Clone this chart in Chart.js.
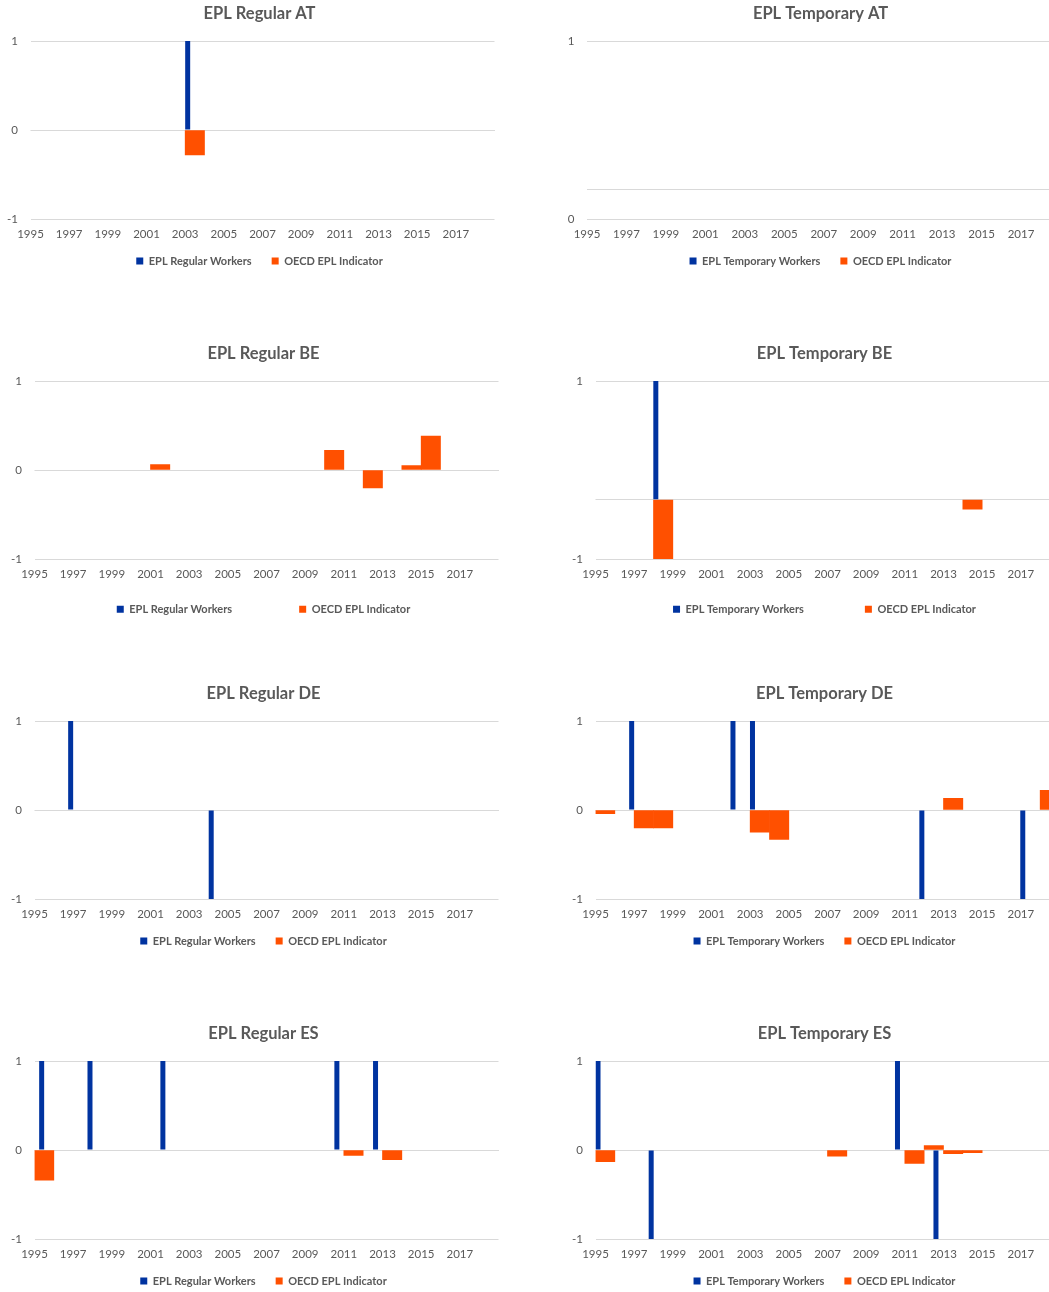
<!DOCTYPE html>
<html>
<head>
<meta charset="utf-8">
<title>EPL changes by country</title>
<script src="https://cdn.jsdelivr.net/npm/chart.js@4.4.1/dist/chart.umd.min.js"></script>
<style>
  html, body { margin: 0; padding: 0; background: #fff; overflow: hidden; }
  body { width: 1049px; height: 1292px; position: relative; }
  .panel { position: absolute; }
  .panel canvas { display: block; }
</style>
</head>
<body>
<script>
// --- Data ---
const years = [1995, 1996, 1997, 1998, 1999, 2000, 2001, 2002, 2003, 2004, 2005, 2006,
               2007, 2008, 2009, 2010, 2011, 2012, 2013, 2014, 2015, 2016, 2017, 2018];
const xTickLabels = ['1995', '1997', '1999', '2001', '2003', '2005', '2007', '2009', '2011', '2013', '2015', '2017'];

// y tick labels
const yTicksFull = [-1, 0, 1];
const yTicksTempAt = [0, 1];
const yTicksTempBe = [-1, 1];

// reform dates (decimal years) and direction of the reform for the workers series
const regAtDates = [2003.13];
const regAtWorkers = [1];
const tempAtDates = [];
const tempAtWorkers = [];
const regBeDates = [];
const regBeWorkers = [];
const tempBeDates = [1998.12];
const tempBeWorkers = [1];
const regDeDates = [1996.87, 2004.14];
const regDeWorkers = [1, -1];
const tempDeDates = [1996.87, 2002.11, 2003.12, 2011.88, 2017.1];
const tempDeWorkers = [1, 1, 1, -1, -1];
const regEsDates = [1995.37, 1997.87, 2001.64, 2010.64, 2012.64];
const regEsWorkers = [1, 1, 1, 1, 1];
const tempEsDates = [1995.13, 1997.88, 2010.62, 2012.61];
const tempEsWorkers = [1, -1, 1, -1];

// yearly change of the OECD EPL indicator, one value per year 1995..2018
const regAtOecd  = [0, 0, 0, 0, 0, 0, 0, 0, -0.28, 0, 0, 0, 0, 0, 0, 0, 0, 0, 0, 0, 0, 0, 0, 0];
const tempAtOecd = [0, 0, 0, 0, 0, 0, 0, 0, 0, 0, 0, 0, 0, 0, 0, 0, 0, 0, 0, 0, 0, 0, 0, 0];
const regBeOecd  = [0, 0, 0, 0, 0, 0, 0.06, 0, 0, 0, 0, 0, 0, 0, 0, 0.22, 0, -0.2, 0, 0.05, 0.38, 0, 0, 0];
const tempBeOecd = [0, 0, 0, -0.5, 0, 0, 0, 0, 0, 0, 0, 0, 0, 0, 0, 0, 0, 0, 0, -0.08, 0, 0, 0, 0];
const regDeOecd  = [0, 0, 0, 0, 0, 0, 0, 0, 0, 0, 0, 0, 0, 0, 0, 0, 0, 0, 0, 0, 0, 0, 0, 0];
const tempDeOecd = [-0.04, 0, -0.2, -0.2, 0, 0, 0, 0, -0.25, -0.33, 0, 0, 0, 0, 0, 0, 0, 0, 0.13, 0, 0, 0, 0, 0.22];
const regEsOecd  = [-0.34, 0, 0, 0, 0, 0, 0, 0, 0, 0, 0, 0, 0, 0, 0, 0, -0.06, 0, -0.11, 0, 0, 0, 0, 0];
const tempEsOecd = [-0.13, 0, 0, 0, 0, 0, 0, 0, 0, 0, 0, 0, -0.07, 0, 0, 0, -0.15, 0.05, -0.04, -0.03, 0, 0, 0, 0];

// --- Styling ---
Chart.defaults.font.family = 'Lato, "Open Sans", sans-serif';
Chart.defaults.color = '#595959';

const BLUE = '#0033a0';
const ORANGE = '#ff5000';
const GRID = '#d9d9d9';

const PLOT_BOTTOM = 219;   // bottom of plot area inside each panel
const X_AXIS_H = 24;       // must hold the tick labels (they are clipped to the axis box)
const LEGEND_FONT = 11;
const TICK_FONT = 11.5;
const RIGHT_PAD = 28.5;

const panels = [
  { title: 'EPL Regular AT', series: 'EPL Regular Workers', dates: regAtDates, workers: regAtWorkers, oecd: regAtOecd,
    yTicks: yTicksFull, barMin: -1, barMax: 1, left: -4.5, top: 0, width: 527, axisW: 34.5, gap: 20, drop: 42 },
  { title: 'EPL Temporary AT', series: 'EPL Temporary Workers', dates: tempAtDates, workers: tempAtWorkers, oecd: tempAtOecd,
    yTicks: yTicksTempAt, barMin: -0.2, barMax: 1, left: 551.5, top: 0, width: 537, axisW: 35, gap: 20, drop: 42 },
  { title: 'EPL Regular BE', series: 'EPL Regular Workers', dates: regBeDates, workers: regBeWorkers, oecd: regBeOecd,
    yTicks: yTicksFull, barMin: -1, barMax: 1, left: 0, top: 340, width: 527, axisW: 34.5, gap: 67, drop: 50.3 },
  { title: 'EPL Temporary BE', series: 'EPL Temporary Workers', dates: tempBeDates, workers: tempBeWorkers, oecd: tempBeOecd,
    yTicks: yTicksTempBe, barMin: -0.5, barMax: 1, left: 560.5, top: 340, width: 527, axisW: 34.5, gap: 61, drop: 50.3 },
  { title: 'EPL Regular DE', series: 'EPL Regular Workers', dates: regDeDates, workers: regDeWorkers, oecd: regDeOecd,
    yTicks: yTicksFull, barMin: -1, barMax: 1, left: 0, top: 680, width: 527, axisW: 34.5, gap: 20, drop: 42 },
  { title: 'EPL Temporary DE', series: 'EPL Temporary Workers', dates: tempDeDates, workers: tempDeWorkers, oecd: tempDeOecd,
    yTicks: yTicksFull, barMin: -1, barMax: 1, left: 560.5, top: 680, width: 527, axisW: 34.5, gap: 20, drop: 42 },
  { title: 'EPL Regular ES', series: 'EPL Regular Workers', dates: regEsDates, workers: regEsWorkers, oecd: regEsOecd,
    yTicks: yTicksFull, barMin: -1, barMax: 1, left: 0, top: 1020, width: 527, axisW: 34.5, gap: 20, drop: 42 },
  { title: 'EPL Temporary ES', series: 'EPL Temporary Workers', dates: tempEsDates, workers: tempEsWorkers, oecd: tempEsOecd,
    yTicks: yTicksFull, barMin: -1, barMax: 1, left: 560.5, top: 1020, width: 527, axisW: 34.5, gap: 20, drop: 42 }
];

function makeChart(p) {
  // legend item centre sits at axis bottom + titleHeight + padding + itemHeight / 2;
  // an (empty, negative) legend title brings it to the wanted distance below the plot
  const lift = p.drop - X_AXIS_H - p.gap - LEGEND_FONT / 2;
  const legendH = lift + LEGEND_FONT + p.gap + 10;
  const need = PLOT_BOTTOM + X_AXIS_H + legendH;
  const height = Math.ceil(need);

  const holder = document.createElement('div');
  holder.className = 'panel';
  holder.style.left = p.left + 'px';
  holder.style.top = p.top + 'px';
  const canvas = document.createElement('canvas');
  canvas.width = p.width;
  canvas.height = height;
  holder.appendChild(canvas);
  document.body.appendChild(holder);

  new Chart(canvas, {
    type: 'bar',
    data: {
      datasets: [
        {
          label: p.series,
          data: p.dates.map((d, i) => ({ x: d, y: p.workers[i] })),
          backgroundColor: BLUE,
          xAxisID: 'x2',
          yAxisID: 'y2',
          grouped: false,
          maxBarThickness: 5
        },
        {
          label: 'OECD EPL Indicator',
          // each yearly bar spans the whole year
          data: years.map((yr, i) => ({ x: yr + 0.5, y: p.oecd[i] === 0 ? null : p.oecd[i] })),
          backgroundColor: ORANGE,
          xAxisID: 'x',
          yAxisID: 'y2',
          grouped: false,
          barPercentage: 1,
          categoryPercentage: 1
        }
      ]
    },
    options: {
      responsive: false,
      animation: false,
      layout: { padding: { left: 0, right: 0, top: 0, bottom: height - need } },
      plugins: {
        title: {
          display: true,
          text: p.title,
          color: '#595959',
          font: { size: 16.5, weight: 'bold' },
          padding: { top: 4, bottom: 17.2 }
        },
        legend: {
          position: 'bottom',
          labels: {
            boxWidth: 7,
            boxHeight: 7,
            padding: p.gap,
            color: '#595959',
            font: { size: LEGEND_FONT, weight: 'bold' }
          },
          title: { display: true, text: '', font: { size: 10 }, padding: { top: lift - 12, bottom: 0 } }
        },
        tooltip: { enabled: false }
      },
      scales: {
        x: {
          type: 'linear',
          min: 1995,
          max: 2019,
          offset: false,
          grid: { display: false, drawTicks: false },
          border: { display: false },
          ticks: {
            autoSkip: false,
            maxRotation: 0,
            padding: 8.5,
            font: { size: TICK_FONT },
            callback: (v, i) => xTickLabels[i]
          },
          afterBuildTicks: (axis) => { axis.ticks = xTickLabels.map(t => ({ value: Number(t) })); },
          afterFit: (axis) => { axis.height = X_AXIS_H; }
        },
        x2: {
          type: 'linear',
          min: 1995,
          max: 2019,
          offset: false,
          display: false
        },
        y: {
          position: 'left',
          min: Math.min(...p.yTicks),
          max: Math.max(...p.yTicks),
          grid: { color: GRID, drawTicks: false },
          border: { display: false },
          ticks: { padding: 12.5, font: { size: TICK_FONT }, callback: v => String(v) },
          afterBuildTicks: (axis) => { axis.ticks = p.yTicks.map(v => ({ value: v })); },
          afterFit: (axis) => { axis.width = p.axisW; }
        },
        y2: {
          position: 'right',
          min: p.barMin,
          max: p.barMax,
          grid: { color: GRID, drawTicks: false },
          border: { display: false },
          ticks: { display: false },
          afterBuildTicks: (axis) => { axis.ticks = [{ value: 0 }]; },
          afterFit: (axis) => { axis.width = RIGHT_PAD; }
        }
      }
    }
  });
}

panels.forEach(makeChart);
</script>
</body>
</html>
